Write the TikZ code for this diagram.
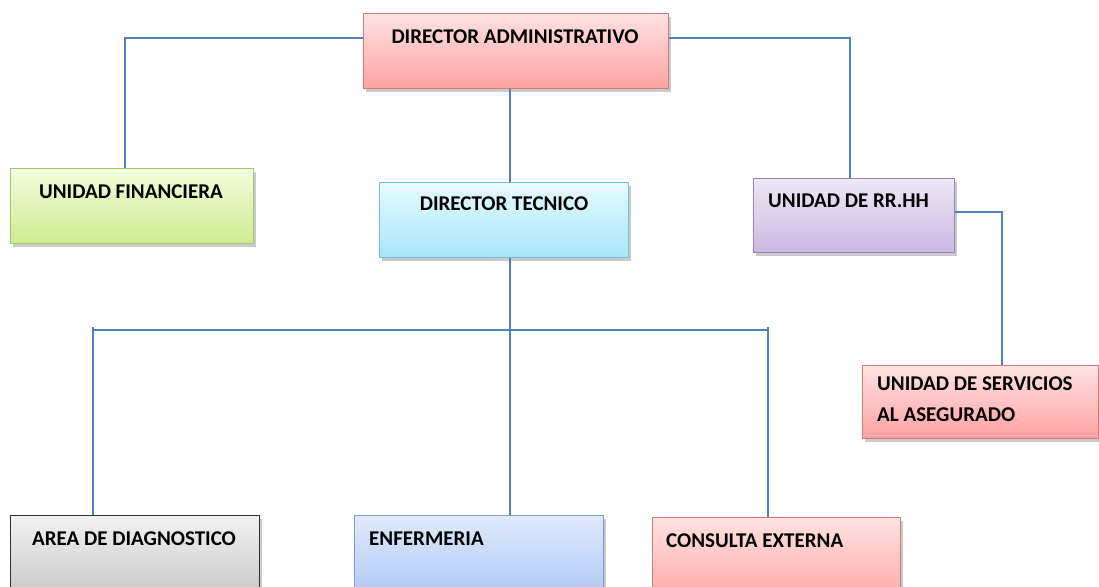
\documentclass[tikz,border=0pt]{standalone}
\usepackage{fontspec}
\setmainfont{Carlito}
\usetikzlibrary{shadows}
\definecolor{linkc}{HTML}{4F81BD}
\definecolor{redT}{HTML}{FFE2E2}\definecolor{redB}{HTML}{FFA2A2}\definecolor{redD}{HTML}{D27A78}
\definecolor{grnT}{HTML}{F3FCDD}\definecolor{grnB}{HTML}{CDEB90}\definecolor{grnD}{HTML}{A8C66A}
\definecolor{cyaT}{HTML}{E6FAFF}\definecolor{cyaB}{HTML}{A6E6F8}\definecolor{cyaD}{HTML}{6CBFD6}
\definecolor{purT}{HTML}{EEE8F6}\definecolor{purB}{HTML}{CBB7E1}\definecolor{purD}{HTML}{9A84B9}
\definecolor{gryT}{HTML}{F2F2F2}\definecolor{gryB}{HTML}{C2C2C2}\definecolor{gryD}{HTML}{333333}
\definecolor{bluT}{HTML}{DFE9FB}\definecolor{bluB}{HTML}{A9C5F3}\definecolor{bluD}{HTML}{7A9CD0}
\tikzset{
  box/.style={draw, line width=1.3pt, shading=axis, shading angle=0, inner sep=0pt,
    drop shadow={shadow xshift=2pt, shadow yshift=-3pt, opacity=0.35, fill=black!60}},
  redbox/.style={box, draw=redD, top color=redT, bottom color=redB},
  greenbox/.style={box, draw=grnD, top color=grnT, bottom color=grnB},
  cyanbox/.style={box, draw=cyaD, top color=cyaT, bottom color=cyaB},
  purplebox/.style={box, draw=purD, top color=purT, bottom color=purB},
  greybox/.style={box, draw=gryD, top color=gryT, bottom color=gryB},
  bluebox/.style={box, draw=bluD, top color=bluT, bottom color=bluB},
  lbl/.style={font=\bfseries\fontsize{21}{31}\selectfont, inner sep=0pt, align=left, text=black},
  link/.style={draw=linkc, line width=1.4pt},
}
\begin{document}
\begin{tikzpicture}[x=1pt,y=-1pt]
\useasboundingbox (0,0) rectangle (1099,586);
\clip (0,0) rectangle (1099,586);
% boxes
\node[redbox, minimum width=305pt, minimum height=75pt, anchor=north west] (da) at (363,13) {};
\node[greenbox, minimum width=243pt, minimum height=75pt, anchor=north west] (uf) at (10,168) {};
\node[cyanbox, minimum width=249pt, minimum height=75pt, anchor=north west] (dt) at (379,182) {};
\node[purplebox, minimum width=201pt, minimum height=74pt, anchor=north west] (rh) at (753,178) {};
\node[redbox, minimum width=236pt, minimum height=73pt, anchor=north west] (us) at (862,365) {};
\node[greybox, minimum width=249pt, minimum height=90pt, anchor=north west] (ad) at (10,515) {};
\node[bluebox, minimum width=249pt, minimum height=90pt, anchor=north west] (en) at (354,515) {};
\node[redbox, minimum width=248pt, minimum height=90pt, anchor=north west] (ce) at (652,517) {};
% labels
\node[lbl] (daT) at (515,37) {DIRECTOR ADMINISTRATIVO};
\node[lbl] (ufT) at (131,192) {UNIDAD FINANCIERA};
\node[lbl] (dtT) at (504,204) {DIRECTOR TECNICO};
\node[lbl, anchor=west] (rhT) at (768,201) {UNIDAD DE RR.HH};
\node[lbl, anchor=north west] (usT) at (877,377) {UNIDAD DE SERVICIOS\\AL ASEGURADO};
\node[lbl] (adT) at (134,539) {AREA DE DIAGNOSTICO};
\node[lbl, anchor=west] (enT) at (369,539) {ENFERMERIA};
\node[lbl, anchor=west] (ceT) at (666,541) {CONSULTA EXTERNA};
% connectors
\coordinate (bus) at (510,330);
\draw[link] (da.west |- 0,38) -| (uf.north -| 125,0);
\draw[link] (da.east |- 0,38) -| (rh.north -| 850,0);
\draw[link] (da.south -| bus) -- (dt.north -| bus);
\draw[link] (dt.south -| bus) -- (en.north -| bus);
\draw[link] (93,330) -- (768,330);
\draw[link] (93,327) -- (ad.north -| 93,0);
\draw[link] (768,327) -- (ce.north -| 768,0);
\draw[link] (rh.east |- 0,212) -| (us.north -| 1002,0);
\end{tikzpicture}
\end{document}
